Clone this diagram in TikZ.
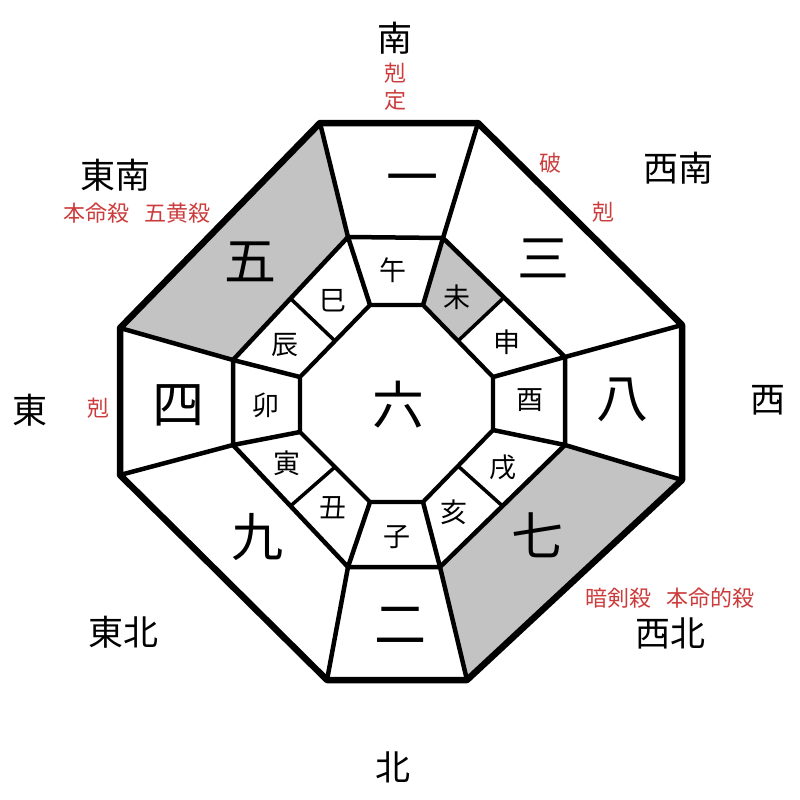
\documentclass[tikz,border=0pt]{standalone}
\usepackage{fontspec}
\usetikzlibrary{calc}
\newfontfamily\cjk{Noto Sans CJK JP}
\definecolor{shade}{RGB}{195,195,195}
\definecolor{redlbl}{RGB}{205,60,60}
\begin{document}
\begin{tikzpicture}[x=1pt,y=-1pt,
  big/.style={font=\cjk\fontsize{52}{52}\selectfont, inner sep=0pt},
  cell/.style={font=\cjk\fontsize{27}{27}\selectfont, inner sep=0pt},
  dirlbl/.style={font=\cjk\fontsize{35}{35}\selectfont, inner sep=0pt},
  note/.style={font=\cjk\fontsize{22}{22}\selectfont, text=redlbl, inner sep=0pt},
  outerline/.style={line width=6.5pt, line join=round},
  midline/.style={line width=4.5pt, line join=round},
  innerline/.style={line width=4.2pt, line join=round},
  divline/.style={line width=3.5pt},
  grayfill/.style={fill=shade, draw=none}]
\useasboundingbox (0,0) rectangle (800,800);
\fill[white] (0,0) rectangle (800,800);
% outer octagon
\coordinate (O1) at (320,123); \coordinate (O2) at (478,123);
\coordinate (O3) at (682,325); \coordinate (O4) at (682,480);
\coordinate (O5) at (467,680); \coordinate (O6) at (327,680);
\coordinate (O7) at (120,475); \coordinate (O8) at (120,328);
% middle octagon
\coordinate (M1) at (348,237); \coordinate (M2) at (443,238);
\coordinate (M3) at (565,357); \coordinate (M4) at (565,445);
\coordinate (M5) at (440,567); \coordinate (M6) at (348,567);
\coordinate (M7) at (233,445); \coordinate (M8) at (233,360);
% inner octagon
\coordinate (I1) at (370,305); \coordinate (I2) at (423,305);
\coordinate (I3) at (493,377); \coordinate (I4) at (493,430);
\coordinate (I5) at (423,502); \coordinate (I6) at (370,502);
\coordinate (I7) at (300,432); \coordinate (I8) at (300,377);
% split points
\coordinate (A1) at ($(M2)!0.5!(M3)$); \coordinate (B1) at ($(I2)!0.5!(I3)$);
\coordinate (A2) at ($(M4)!0.5!(M5)$); \coordinate (B2) at ($(I4)!0.5!(I5)$);
\coordinate (A3) at ($(M6)!0.5!(M7)$); \coordinate (B3) at ($(I6)!0.5!(I7)$);
\coordinate (A4) at ($(M8)!0.5!(M1)$); \coordinate (B4) at ($(I8)!0.5!(I1)$);
% fills
\path[grayfill] (O8) -- (O1) -- (M1) -- (M8) -- cycle;
\path[grayfill] (O4) -- (O5) -- (M5) -- (M4) -- cycle;
\path[grayfill] (M2) -- (A1) -- (B1) -- (I2) -- cycle;
% dividers of small cells
\draw[divline] (A1) -- (B1);
\draw[divline] (A2) -- (B2);
\draw[divline] (A3) -- (B3);
\draw[divline] (A4) -- (B4);
% connectors middle -> inner
\draw[midline] (M1) -- (I1) (M2) -- (I2) (M3) -- (I3) (M4) -- (I4)
  (M5) -- (I5) (M6) -- (I6) (M7) -- (I7) (M8) -- (I8);
% spokes outer -> middle
\draw[midline] (O1) -- (M1) (O2) -- (M2) (O3) -- (M3) (O4) -- (M4)
  (O5) -- (M5) (O6) -- (M6) (O7) -- (M7) (O8) -- (M8);
% middle octagon
\draw[midline] (M1) -- (M2) -- (M3) -- (M4) -- (M5) -- (M6) -- (M7) -- (M8) -- cycle;
% inner octagon
\draw[innerline] (I1) -- (I2) -- (I3) -- (I4) -- (I5) -- (I6) -- (I7) -- (I8) -- cycle;
% outer octagon
\draw[outerline] (O1) -- (O2) -- (O3) -- (O4) -- (O5) -- (O6) -- (O7) -- (O8) -- cycle;
% big numbers
\node[big] (n1) at (412,185) {一};
\node[big] (n3) at (543,258) {三};
\node[big] (n8) at (622,400) {八};
\node[big] (n7) at (537,535) {七};
\node[big] (n2) at (400,625) {二};
\node[big] (n9) at (257,537) {九};
\node[big] (n4) at (178,405) {四};
\node[big] (n5) at (250,262) {五};
\node[big] (n6) at (398,405) {六};
% cells
\node[cell] (wu)   at (393,270) {午};
\node[cell] (wei)  at (457,297) {未};
\node[cell] (shen) at (507,342) {申};
\node[cell] (you)  at (530,400) {酉};
\node[cell] (xu)   at (503,467) {戌};
\node[cell] (hai)  at (454,512) {亥};
\node[cell] (zi)   at (397,537) {子};
\node[cell] (chou) at (333,508) {丑};
\node[cell] (yin)  at (287,463) {寅};
\node[cell] (mao)  at (266,405) {卯};
\node[cell] (chen) at (285,345) {辰};
\node[cell] (si)   at (333,301) {巳};
% directions
\node[dirlbl] (south) at (395,38) {南};
\node[note] (s1) at (395,73) {剋};
\node[note] (s2) at (395,100) {定};
\node[dirlbl] (se) at (115,175) {東南};
\node[note] (se1) at (137,213) {本命殺\hspace{0.7em}五黄殺};
\node[dirlbl] (sw) at (678,168) {西南};
\node[note] (sw1) at (550,163) {破};
\node[note] (sw2) at (603,212) {剋};
\node[dirlbl] (east) at (30,410) {東};
\node[note] (e1) at (98,408) {剋};
\node[dirlbl] (west) at (768,400) {西};
\node[dirlbl] (ne) at (123,632) {東北};
\node[dirlbl] (nw) at (670,633) {西北};
\node[note] (nw1) at (670,598) {暗剣殺\hspace{0.7em}本命的殺};
\node[dirlbl] (north) at (393,767) {北};
\end{tikzpicture}
\end{document}
